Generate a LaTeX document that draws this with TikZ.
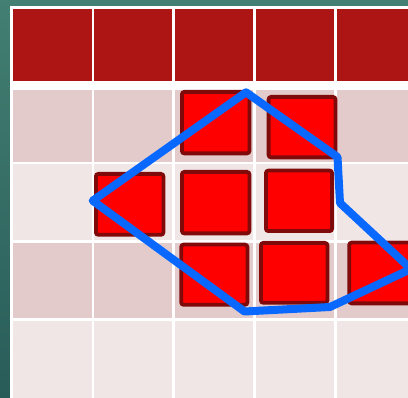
\documentclass[tikz,border=0pt]{standalone}
\begin{document}
\begin{tikzpicture}[x=1pt,y=-1pt]
\definecolor{tealtop}{HTML}{437F72}
\definecolor{tealbot}{HTML}{285C59}
\definecolor{hdr}{HTML}{AD1515}
\definecolor{rowA}{HTML}{E3CBCB}
\definecolor{rowB}{HTML}{F0E6E6}
\definecolor{sqfill}{HTML}{FF0000}
\definecolor{sqedge}{HTML}{800A0A}
\definecolor{hull}{HTML}{0868FF}
\tikzset{
  sq/.style={fill=sqfill,draw=sqedge,line width=3.8pt,rounded corners=2.5pt},
  hullline/.style={draw=hull,line width=8pt,line join=round,line cap=round}
}
\useasboundingbox (0,0) rectangle (408,398);
\clip (0,0) rectangle (408,398);
\shade[top color=tealtop,bottom color=tealbot] (0,0) rectangle (408,398);
\fill[white] (10,6) rectangle (420,410);
% columns
\def\cols{12.5/91.5,93.8/172.4,175/253.3,256/334.3,336.8/420}
% header
\foreach \a/\b in \cols {\fill[hdr] (\a,9) rectangle (\b,81.3);}
\foreach \a/\b in \cols {\fill[rowA] (\a,90) rectangle (\b,161.7);}
\foreach \a/\b in \cols {\fill[rowB] (\a,164.3) rectangle (\b,240.2);}
\foreach \a/\b in \cols {\fill[rowA] (\a,243) rectangle (\b,317.6);}
\foreach \a/\b in \cols {\fill[rowB] (\a,320.6) rectangle (\b,410);}
% squares
\draw[sq] (181.9,91.9) rectangle (249.4,153.4);
\draw[sq] (268.6,96.9) rectangle (335.4,157.4);
\draw[sq] (95.9,173.9) rectangle (163.4,234.8);
\draw[sq] (181.9,171.9) rectangle (249.4,233.4);
\draw[sq] (265.9,170.6) rectangle (332.1,231.1);
\draw[sq] (181.2,244.6) rectangle (247.4,304.8);
\draw[sq] (260.9,242.9) rectangle (327.4,302.8);
\draw[sq] (349.2,242.6) rectangle (430,303.4);
% hull
\coordinate (p1) at (92.7,200.7);
\coordinate (p2) at (246,92.3);
\coordinate (p3) at (337.5,157);
\coordinate (p4) at (340,203);
\coordinate (p5) at (411,269);
\coordinate (p6) at (330,307);
\coordinate (p7) at (244.5,311.5);
\draw[hullline] (p1) -- (p2) -- (p3) -- (p4) -- (p5) -- (p6) -- (p7) -- cycle;
\end{tikzpicture}
\end{document}
